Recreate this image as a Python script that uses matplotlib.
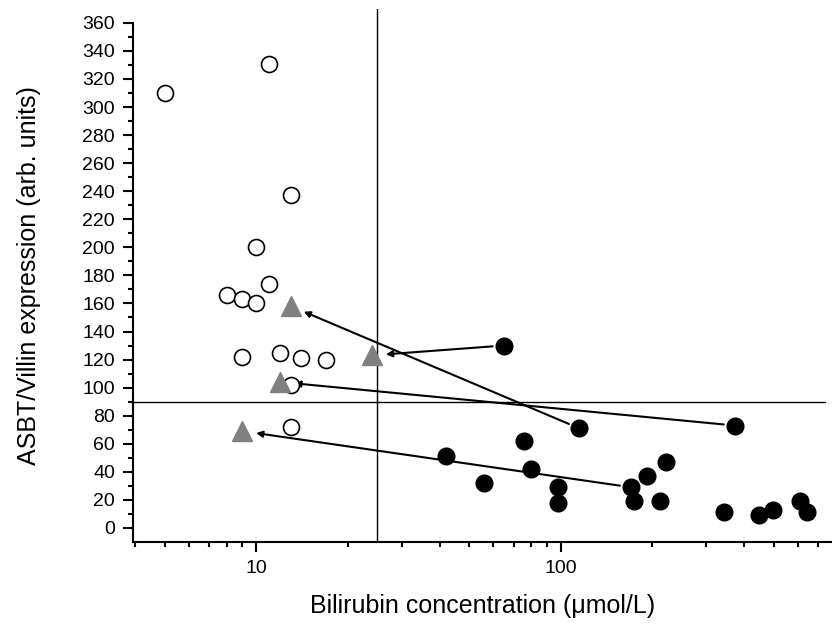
import matplotlib
matplotlib.use("Agg")
import matplotlib.pyplot as plt
from matplotlib.ticker import LogLocator, NullFormatter, FixedLocator, FixedFormatter

plt.rcParams['font.family'] = ['Liberation Sans', 'DejaVu Sans']

# open circles: normal bilirubin
open_x = [5, 11, 13, 10, 11, 8, 9, 10, 9, 12, 14, 17, 13, 13]
open_y = [310, 331, 237, 200, 174, 166, 163, 160, 122, 125, 121, 120, 102, 72]

# filled circles: high bilirubin
filled_x = [65, 115, 373, 76, 42, 56, 80, 98, 98, 170, 174, 192, 222, 212, 344, 449, 498, 609, 644]
filled_y = [130, 71, 73, 62, 51, 32, 42, 29, 18, 29, 19, 37, 47, 19, 11, 9, 13, 19, 11]

# grey triangles: after treatment
tri_x = [24, 13, 12, 9]
tri_y = [123, 158, 104, 69]

# arrows: from filled circle (before) to triangle (after)
arrow_from_x = [65, 115, 373, 170]
arrow_from_y = [130, 71, 73, 29]

ref_y = 90
ref_x = 25

fig = plt.figure(figsize=(8.32, 6.28), dpi=100)
ax = fig.add_axes([0.16, 0.137, 0.84, 0.849])

ax.set_xscale('log')
ax.set_xlim(3.94, 778)
ax.set_ylim(-10, 370)

ax.axvline(ref_x, color='black', lw=1.0, zorder=1)
ax.plot([3.94, 740], [ref_y, ref_y], color='black', lw=1.0, zorder=1)

for x0, y0, x1, y1 in zip(arrow_from_x, arrow_from_y, tri_x, tri_y):
    ax.annotate('', xy=(x1, y1), xytext=(x0, y0),
                arrowprops=dict(arrowstyle='-|>', color='black', lw=1.5,
                                shrinkA=8, shrinkB=10, mutation_scale=9),
                zorder=2)

ax.plot(open_x, open_y, 'o', ms=11.5, mfc='white', mec='black', mew=1.2, zorder=3)
ax.plot(filled_x, filled_y, 'o', ms=12, mfc='black', mec='black', zorder=3)
ax.plot(tri_x, tri_y, '^', ms=14, mfc='#808080', mec='#808080', zorder=4)

for s in ['top', 'right']:
    ax.spines[s].set_visible(False)
ax.spines['left'].set_bounds(-10, 360)
ax.spines['left'].set_linewidth(1.5)
ax.spines['bottom'].set_linewidth(1.5)

ax.yaxis.set_major_locator(FixedLocator(list(range(0, 361, 20))))
ax.yaxis.set_minor_locator(FixedLocator(list(range(10, 360, 20))))
ax.xaxis.set_major_locator(FixedLocator([10, 100]))
ax.xaxis.set_major_formatter(FixedFormatter(['10', '100']))
ax.xaxis.set_minor_locator(LogLocator(base=10, subs=range(2, 10)))
ax.xaxis.set_minor_formatter(NullFormatter())

ax.tick_params(which='major', direction='out', length=7, width=1.5, labelsize=14)
ax.tick_params(axis='y', which='major', pad=6)
ax.tick_params(axis='x', which='major', pad=6)
ax.tick_params(which='minor', direction='out', length=3.6, width=1.5)

ax.set_xlabel('Bilirubin concentration (\u03bcmol/L)', fontsize=18, labelpad=12)
ax.set_ylabel('ASBT/Villin expression (arb. units)', fontsize=18, labelpad=30)

fig.savefig('out.png', dpi=100)
